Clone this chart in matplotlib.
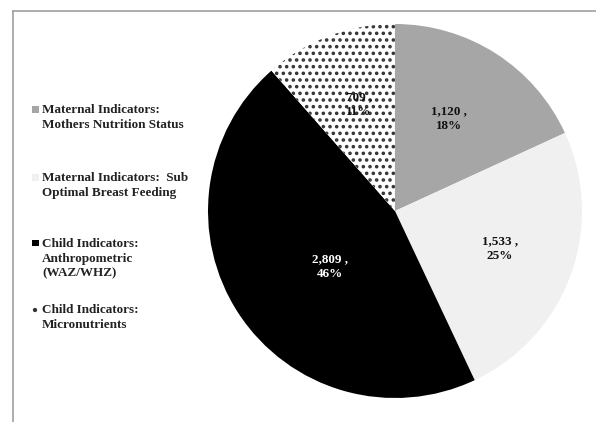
import matplotlib
matplotlib.use("Agg")
import matplotlib.pyplot as plt
from matplotlib.patches import Rectangle
from matplotlib.lines import Line2D

categories = ["Maternal Indicators:\nMothers Nutrition Status",
              "Maternal Indicators:  Sub\nOptimal Breast Feeding",
              "Child Indicators:\nAnthropometric\n(WAZ/WHZ)",
              "Child Indicators:\nMicronutrients"]
values = [1120, 1533, 2809, 709]
value_labels = ["1,120", "1,533", "2,809", "709"]
pct_labels = ["18%", "25%", "46%", "11%"]

colors = ["#a6a6a6", "#f0f0f0", "#000000", "#ffffff"]
hatches = [None, None, None, "..."]
label_colors = ["#111111", "#111111", "#ffffff", "#111111"]
label_pos = [(0.289, 0.492), (0.561, -0.203), (-0.348, -0.299), (-0.193, 0.567)]

DPI = 120
S = 100 / DPI  # scale so sizes look as at 100 dpi
plt.rcParams['font.family'] = ['Liberation Serif', 'DejaVu Serif']
plt.rcParams['hatch.linewidth'] = 1.6 * S

W, H = 596, 422
fig = plt.figure(figsize=(W / DPI, H / DPI), dpi=DPI)

# chart border (top & left visible)
fig.add_artist(Line2D([13 / W, 13 / W], [0, 1 - 11 / H], transform=fig.transFigure,
                      color="#a0a0a0", lw=1.2 * S))
fig.add_artist(Line2D([13 / W, 1], [1 - 11 / H, 1 - 11 / H], transform=fig.transFigure,
                      color="#a0a0a0", lw=1.2 * S))

cx, cy, R = 395, 211, 187
ax = fig.add_axes([(cx - R) / W, (H - cy - R) / H, 2 * R / W, 2 * R / H])
wedges, _ = ax.pie(values, colors=colors, startangle=90, counterclock=False,
                   radius=1, wedgeprops=dict(linewidth=0))
for w, h in zip(wedges, hatches):
    if h:
        w.set_hatch(h)
        w.set_edgecolor("#333333")
        w.set_linewidth(0)
ax.set_xlim(-1, 1)
ax.set_ylim(-1, 1)
ax.set_aspect("equal")
ax.axis("off")

for (x, y), v, p, c in zip(label_pos, value_labels, pct_labels, label_colors):
    ax.text(x, y, f"{v} ,\n{p}", ha="center", va="center", fontsize=9.5 * S,
            fontweight="bold", color=c, linespacing=1.3)

# legend
legend_y = [109, 177, 243, 309]
for lab, col, h, y in zip(categories, colors, hatches, legend_y):
    fig.add_artist(Rectangle((32 / W, 1 - (y + 3.5) / H), 6.5 / W, 6.5 / H,
                             transform=fig.transFigure, facecolor=col,
                             edgecolor="#333333" if h else col, lw=0,
                             hatch=".." if h else None))
    fig.text(42 / W, 1 - (y - 5) / H, lab, ha="left", va="top", fontsize=9.5 * S,
             fontweight="bold", color="#222222", linespacing=1.3)

fig.savefig("out.png", dpi=DPI)
